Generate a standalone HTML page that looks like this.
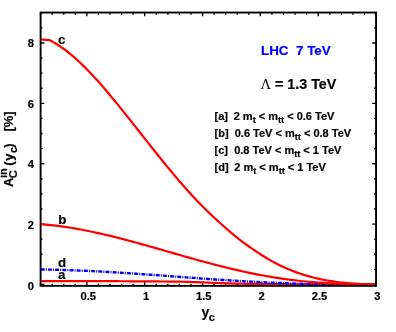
<!DOCTYPE html>
<html><head><meta charset="utf-8"><title>chart</title>
<style>
html,body{margin:0;padding:0;background:#fff;}
body{width:396px;height:332px;overflow:hidden;}
svg{display:block;}
text{font-family:"Liberation Sans",sans-serif;font-weight:bold;fill:#000;stroke:#000;stroke-width:0.2px;}
.tk{font-size:11.2px;}
.lg{font-size:11px;}
.cl{font-size:13.3px;}
</style></head><body>
<svg width="396" height="332" viewBox="0 0 396 332">
<rect x="0" y="0" width="396" height="332" fill="#fff"/>

<rect x="40.6" y="12.55" width="335.45" height="273.3" fill="none" stroke="#000" stroke-width="1.9"/>
<path d="M40.60,285.85V283.7 M40.60,12.55V14.8 M52.17,285.85V283.7 M52.17,12.55V14.8 M63.73,285.85V283.7 M63.73,12.55V14.8 M75.30,285.85V283.7 M75.30,12.55V14.8 M86.87,285.85V282.1 M86.87,12.55V16.3 M98.44,285.85V283.7 M98.44,12.55V14.8 M110.00,285.85V283.7 M110.00,12.55V14.8 M121.57,285.85V283.7 M121.57,12.55V14.8 M133.14,285.85V283.7 M133.14,12.55V14.8 M144.71,285.85V282.1 M144.71,12.55V16.3 M156.27,285.85V283.7 M156.27,12.55V14.8 M167.84,285.85V283.7 M167.84,12.55V14.8 M179.41,285.85V283.7 M179.41,12.55V14.8 M190.97,285.85V283.7 M190.97,12.55V14.8 M202.54,285.85V282.1 M202.54,12.55V16.3 M214.11,285.85V283.7 M214.11,12.55V14.8 M225.68,285.85V283.7 M225.68,12.55V14.8 M237.24,285.85V283.7 M237.24,12.55V14.8 M248.81,285.85V283.7 M248.81,12.55V14.8 M260.38,285.85V282.1 M260.38,12.55V16.3 M271.94,285.85V283.7 M271.94,12.55V14.8 M283.51,285.85V283.7 M283.51,12.55V14.8 M295.08,285.85V283.7 M295.08,12.55V14.8 M306.65,285.85V283.7 M306.65,12.55V14.8 M318.21,285.85V282.1 M318.21,12.55V16.3 M329.78,285.85V283.7 M329.78,12.55V14.8 M341.35,285.85V283.7 M341.35,12.55V14.8 M352.92,285.85V283.7 M352.92,12.55V14.8 M364.48,285.85V283.7 M364.48,12.55V14.8 M376.05,285.85V282.1 M376.05,12.55V16.3 M40.6,284.40H44.4 M376.05,284.40H372.2 M40.6,269.31H42.6 M376.05,269.31H374.1 M40.6,254.22H42.6 M376.05,254.22H374.1 M40.6,239.14H42.6 M376.05,239.14H374.1 M40.6,224.05H44.4 M376.05,224.05H372.2 M40.6,208.96H42.6 M376.05,208.96H374.1 M40.6,193.87H42.6 M376.05,193.87H374.1 M40.6,178.79H42.6 M376.05,178.79H374.1 M40.6,163.70H44.4 M376.05,163.70H372.2 M40.6,148.61H42.6 M376.05,148.61H374.1 M40.6,133.52H42.6 M376.05,133.52H374.1 M40.6,118.44H42.6 M376.05,118.44H374.1 M40.6,103.35H44.4 M376.05,103.35H372.2 M40.6,88.26H42.6 M376.05,88.26H374.1 M40.6,73.17H42.6 M376.05,73.17H374.1 M40.6,58.09H42.6 M376.05,58.09H374.1 M40.6,43.00H44.4 M376.05,43.00H372.2 M40.6,27.91H42.6 M376.05,27.91H374.1 M40.6,12.82H42.6 M376.05,12.82H374.1" stroke="#000" stroke-width="1.35" fill="none"/>
<clipPath id="cp"><rect x="40.8" y="0" width="340" height="285.0"/></clipPath>
<g fill="none" stroke-linejoin="round" stroke-linecap="butt" clip-path="url(#cp)">
<path d="M40.7,281.15 L43.2,281.15 L45.7,281.15 L48.2,281.15 L50.7,281.15 L53.2,281.15 L55.7,281.15 L58.2,281.15 L60.7,281.15 L63.2,281.15 L65.7,281.15 L68.2,281.15 L70.7,281.15 L73.2,281.15 L75.7,281.15 L78.2,281.15 L80.7,281.15 L83.2,281.15 L85.7,281.15 L88.2,281.15 L90.7,281.15 L93.2,281.15 L95.7,281.15 L98.2,281.16 L100.7,281.16 L103.2,281.17 L105.7,281.17 L108.2,281.18 L110.7,281.19 L113.2,281.20 L115.7,281.21 L118.2,281.22 L120.7,281.23 L123.2,281.24 L125.7,281.26 L128.2,281.27 L130.7,281.28 L133.2,281.30 L135.7,281.31 L138.2,281.33 L140.7,281.34 L143.2,281.36 L145.7,281.37 L148.2,281.39 L150.7,281.40 L153.2,281.42 L155.7,281.44 L158.2,281.46 L160.7,281.48 L163.2,281.50 L165.7,281.52 L168.2,281.55 L170.7,281.57 L173.2,281.60 L175.7,281.63 L178.2,281.67 L180.7,281.71 L183.2,281.75 L185.7,281.82 L188.2,281.89 L190.7,281.96 L193.2,282.04 L195.7,282.12 L198.2,282.21 L200.7,282.31 L203.2,282.41 L205.7,282.51 L208.2,282.62 L210.7,282.73 L213.2,282.83 L215.7,282.93 L218.2,283.02 L220.7,283.11 L223.2,283.20 L225.7,283.29 L228.2,283.38 L230.7,283.46 L233.2,283.54 L235.7,283.61 L238.2,283.67 L240.7,283.71 L243.2,283.75 L245.7,283.79 L248.2,283.82 L250.7,283.85 L253.2,283.88 L255.7,283.91 L258.2,283.93 L260.7,283.96 L263.2,283.98 L265.7,284.01 L268.2,284.03 L270.7,284.06 L273.2,284.09 L275.7,284.11 L278.2,284.14 L280.7,284.17 L283.2,284.19 L285.7,284.21 L288.2,284.23 L290.7,284.25 L293.2,284.27 L295.7,284.28 L298.2,284.29 L300.7,284.30 L303.2,284.31 L305.7,284.31 L308.2,284.32 L310.7,284.33 L313.2,284.33 L315.7,284.34 L318.2,284.34 L320.7,284.35 L323.2,284.35 L325.7,284.35 L328.2,284.35 L330.7,284.35 L333.2,284.35 L335.7,284.35 L338.2,284.35 L340.7,284.35 L343.2,284.35 L345.7,284.35 L348.2,284.35 L350.7,284.35 L353.2,284.35 L355.7,284.35 L358.2,284.35 L360.7,284.35 L363.2,284.35 L365.7,284.35 L368.2,284.35 L370.7,284.35 L373.2,284.35 L375.0,284.35" stroke="#ff0000" stroke-width="2.2"/>
<path d="M40.7,269.46 L43.2,269.50 L45.7,269.54 L48.2,269.58 L50.7,269.63 L53.2,269.69 L55.7,269.75 L58.2,269.81 L60.7,269.88 L63.2,269.95 L65.7,270.03 L68.2,270.12 L70.7,270.20 L73.2,270.29 L75.7,270.39 L78.2,270.49 L80.7,270.59 L83.2,270.70 L85.7,270.81 L88.2,270.93 L90.7,271.05 L93.2,271.17 L95.7,271.29 L98.2,271.42 L100.7,271.55 L103.2,271.69 L105.7,271.83 L108.2,271.97 L110.7,272.11 L113.2,272.26 L115.7,272.41 L118.2,272.56 L120.7,272.72 L123.2,272.87 L125.7,273.03 L128.2,273.20 L130.7,273.36 L133.2,273.53 L135.7,273.70 L138.2,273.87 L140.7,274.04 L143.2,274.21 L145.7,274.39 L148.2,274.56 L150.7,274.74 L153.2,274.92 L155.7,275.10 L158.2,275.29 L160.7,275.47 L163.2,275.65 L165.7,275.84 L168.2,276.02 L170.7,276.21 L173.2,276.40 L175.7,276.58 L178.2,276.77 L180.7,276.96 L183.2,277.14 L185.7,277.33 L188.2,277.51 L190.7,277.70 L193.2,277.88 L195.7,278.06 L198.2,278.25 L200.7,278.43 L203.2,278.61 L205.7,278.79 L208.2,278.96 L210.7,279.14 L213.2,279.31 L215.7,279.48 L218.2,279.65 L220.7,279.82 L223.2,279.98 L225.7,280.14 L228.2,280.30 L230.7,280.46 L233.2,280.62 L235.7,280.77 L238.2,280.92 L240.7,281.07 L243.2,281.21 L245.7,281.35 L248.2,281.49 L250.7,281.63 L253.2,281.77 L255.7,281.90 L258.2,282.03 L260.7,282.15 L263.2,282.28 L265.7,282.40 L268.2,282.51 L270.7,282.63 L273.2,282.74 L275.7,282.85 L278.2,282.95 L280.7,283.06 L283.2,283.16 L285.7,283.25 L288.2,283.34 L290.7,283.43 L293.2,283.52 L295.7,283.60 L298.2,283.68 L300.7,283.76 L303.2,283.83 L305.7,283.90 L308.2,283.97 L310.7,284.03 L313.2,284.09 L315.7,284.14 L318.2,284.19 L320.7,284.24 L323.2,284.28 L325.7,284.32 L328.2,284.35 L330.7,284.35 L333.2,284.35 L335.7,284.35 L338.2,284.35 L340.7,284.35 L343.2,284.35 L345.7,284.35 L348.2,284.35 L350.7,284.35 L353.2,284.35 L355.7,284.35 L358.2,284.35 L360.7,284.35 L363.2,284.35 L365.7,284.35 L368.2,284.35 L370.7,284.35 L373.2,284.31 L375.0,284.28" stroke="#0000ff" stroke-width="2.4" stroke-dasharray="4.0 1.1 1.0 1.1"/>
<path d="M40.7,224.18 L43.2,224.37 L45.7,224.59 L48.2,224.82 L50.7,225.08 L53.2,225.35 L55.7,225.64 L58.2,225.96 L60.7,226.29 L63.2,226.63 L65.7,227.00 L68.2,227.38 L70.7,227.78 L73.2,228.19 L75.7,228.62 L78.2,229.06 L80.7,229.52 L83.2,229.99 L85.7,230.48 L88.2,230.98 L90.7,231.50 L93.2,232.02 L95.7,232.56 L98.2,233.11 L100.7,233.68 L103.2,234.25 L105.7,234.83 L108.2,235.43 L110.7,236.03 L113.2,236.64 L115.7,237.27 L118.2,237.90 L120.7,238.54 L123.2,239.18 L125.7,239.84 L128.2,240.50 L130.7,241.17 L133.2,241.84 L135.7,242.52 L138.2,243.21 L140.7,243.90 L143.2,244.59 L145.7,245.29 L148.2,245.99 L150.7,246.70 L153.2,247.41 L155.7,248.12 L158.2,248.83 L160.7,249.55 L163.2,250.26 L165.7,250.98 L168.2,251.70 L170.7,252.41 L173.2,253.13 L175.7,253.85 L178.2,254.56 L180.7,255.27 L183.2,255.99 L185.7,256.69 L188.2,257.40 L190.7,258.10 L193.2,258.80 L195.7,259.50 L198.2,260.19 L200.7,260.87 L203.2,261.55 L205.7,262.23 L208.2,262.90 L210.7,263.56 L213.2,264.21 L215.7,264.86 L218.2,265.50 L220.7,266.14 L223.2,266.76 L225.7,267.38 L228.2,267.99 L230.7,268.60 L233.2,269.19 L235.7,269.77 L238.2,270.35 L240.7,270.91 L243.2,271.47 L245.7,272.01 L248.2,272.55 L250.7,273.08 L253.2,273.59 L255.7,274.09 L258.2,274.58 L260.7,275.07 L263.2,275.53 L265.7,275.99 L268.2,276.43 L270.7,276.87 L273.2,277.28 L275.7,277.69 L278.2,278.08 L280.7,278.46 L283.2,278.83 L285.7,279.18 L288.2,279.51 L290.7,279.83 L293.2,280.14 L295.7,280.44 L298.2,280.72 L300.7,280.99 L303.2,281.24 L305.7,281.48 L308.2,281.72 L310.7,281.93 L313.2,282.14 L315.7,282.34 L318.2,282.52 L320.7,282.70 L323.2,282.86 L325.7,283.01 L328.2,283.15 L330.7,283.29 L333.2,283.41 L335.7,283.52 L338.2,283.63 L340.7,283.72 L343.2,283.81 L345.7,283.89 L348.2,283.96 L350.7,284.02 L353.2,284.08 L355.7,284.13 L358.2,284.17 L360.7,284.20 L363.2,284.23 L365.7,284.25 L368.2,284.27 L370.7,284.28 L373.2,284.29 L375.0,284.29" stroke="#ff0000" stroke-width="2.2"/>
<path d="M40.7,39.30 L49.2,40.04 L51.2,41.04 L53.2,42.12 L55.2,43.27 L57.2,44.48 L59.2,45.76 L61.2,47.10 L63.2,48.51 L65.2,49.98 L67.2,51.50 L69.2,53.09 L71.2,54.73 L73.2,56.42 L75.2,58.17 L77.2,59.97 L79.2,61.81 L81.2,63.70 L83.2,65.64 L85.2,67.62 L87.2,69.65 L89.2,71.71 L91.2,73.82 L93.2,75.96 L95.2,78.13 L97.2,80.34 L99.2,82.58 L101.2,84.85 L103.2,87.15 L105.2,89.48 L107.2,91.83 L109.2,94.20 L111.2,96.60 L113.2,99.01 L115.2,101.45 L117.2,103.90 L119.2,106.36 L121.2,108.84 L123.2,111.33 L125.2,113.83 L127.2,116.34 L129.2,118.86 L131.2,121.38 L133.2,123.91 L135.2,126.44 L137.2,128.98 L139.2,131.51 L141.2,134.05 L143.2,136.59 L145.2,139.13 L147.2,141.66 L149.2,144.19 L151.2,146.72 L153.2,149.24 L155.2,151.75 L157.2,154.26 L159.2,156.76 L161.2,159.24 L163.2,161.72 L165.2,164.18 L167.2,166.62 L169.2,169.06 L171.2,171.47 L173.2,173.87 L175.2,176.26 L177.2,178.62 L179.2,180.96 L181.2,183.28 L183.2,185.58 L185.2,187.85 L187.2,190.10 L189.2,192.32 L191.2,194.52 L193.2,196.68 L195.2,198.82 L197.2,200.93 L199.2,203.00 L201.2,205.04 L203.2,207.05 L205.2,209.03 L207.2,210.98 L209.2,212.90 L211.2,214.80 L213.2,216.68 L215.2,218.53 L217.2,220.37 L219.2,222.19 L221.2,223.99 L223.2,225.78 L225.2,227.56 L227.2,229.31 L229.2,231.04 L231.2,232.74 L233.2,234.42 L235.2,236.08 L237.2,237.70 L239.2,239.28 L241.2,240.83 L243.2,242.35 L245.2,243.82 L247.2,245.26 L249.2,246.67 L251.2,248.06 L253.2,249.42 L255.2,250.77 L257.2,252.10 L259.2,253.43 L261.2,254.74 L263.2,256.03 L265.2,257.27 L267.2,258.48 L269.2,259.66 L271.2,260.79 L273.2,261.90 L275.2,262.96 L277.2,264.00 L279.2,265.00 L281.2,265.96 L283.2,266.90 L285.2,267.80 L287.2,268.68 L289.2,269.52 L291.2,270.33 L293.2,271.12 L295.2,271.87 L297.2,272.60 L299.2,273.30 L301.2,273.97 L303.2,274.61 L305.2,275.23 L307.2,275.83 L309.2,276.39 L311.2,276.94 L313.2,277.46 L315.2,277.95 L317.2,278.43 L319.2,278.88 L321.2,279.30 L323.2,279.71 L325.2,280.10 L327.2,280.46 L329.2,280.81 L331.2,281.13 L333.2,281.44 L335.2,281.73 L337.2,282.00 L339.2,282.25 L341.2,282.48 L343.2,282.70 L345.2,282.91 L347.2,283.10 L349.2,283.27 L351.2,283.43 L353.2,283.57 L355.2,283.70 L357.2,283.82 L359.2,283.93 L361.2,284.02 L363.2,284.11 L365.2,284.18 L367.2,284.24 L369.2,284.29 L371.2,284.34 L373.2,284.35 L375.0,284.35" stroke="#ff0000" stroke-width="2.2"/>
</g>
<filter id="idf" x="0" y="0" width="396" height="332" filterUnits="userSpaceOnUse"><feOffset dx="0" dy="0"/></filter><g filter="url(#idf)">
<text class="tk" x="88.2" y="300.4" text-anchor="middle">0.5</text>
<text class="tk" x="146.0" y="300.4" text-anchor="middle">1</text>
<text class="tk" x="203.8" y="300.4" text-anchor="middle">1.5</text>
<text class="tk" x="261.7" y="300.4" text-anchor="middle">2</text>
<text class="tk" x="319.5" y="300.4" text-anchor="middle">2.5</text>
<text class="tk" x="377.4" y="300.4" text-anchor="middle">3</text>
<text class="tk" x="34.0" y="289.8" text-anchor="end">0</text>
<text class="tk" x="34.0" y="229.1" text-anchor="end">2</text>
<text class="tk" x="34.0" y="168.4" text-anchor="end">4</text>
<text class="tk" x="34.0" y="107.7" text-anchor="end">6</text>
<text class="tk" x="34.0" y="47.0" text-anchor="end">8</text>
<text class="cl" x="57.9" y="43.5">c</text>
<text class="cl" x="58.2" y="224">b</text>
<text class="cl" x="58.1" y="266.5">d</text>
<text class="cl" x="58.0" y="278.7">a</text>
<text x="261" y="54.5" font-size="13.4" style="fill:#0000ff;stroke:#0000ff" xml:space="preserve">LHC  7 TeV</text>
<text x="260.5" y="88.5" font-size="14.3" xml:space="preserve"><tspan font-size="14.5" style="font-family:'Liberation Serif',serif;font-weight:normal;stroke:none">Λ</tspan> = 1.3 TeV</text>
<text class="lg" x="214.6" y="119.6" xml:space="preserve">[a]<tspan dx="-0.5">  </tspan>2 m<tspan dy="3.3" font-size="9.2">t</tspan><tspan dy="-3.3" font-size="9.2">&#8203;</tspan> &lt; m<tspan dy="3.3" font-size="9.2">tt</tspan><tspan dy="-3.3" font-size="9.2">&#8203;</tspan> &lt; 0.6 TeV</text>
<text class="lg" x="214.6" y="136.6" xml:space="preserve">[b]  0.6 TeV &lt; m<tspan dy="3.3" font-size="9.2">tt</tspan><tspan dy="-3.3" font-size="9.2">&#8203;</tspan> &lt; 0.8 TeV</text>
<text class="lg" x="214.6" y="153.6" xml:space="preserve">[c]  0.8 TeV &lt; m<tspan dy="3.3" font-size="9.2">tt</tspan><tspan dy="-3.3" font-size="9.2">&#8203;</tspan> &lt; 1 TeV</text>
<text class="lg" x="214.6" y="170.6" xml:space="preserve">[d]<tspan dx="-0.5">  </tspan>2 m<tspan dy="3.3" font-size="9.2">t</tspan><tspan dy="-3.3" font-size="9.2">&#8203;</tspan> &lt; m<tspan dy="3.3" font-size="9.2">tt</tspan><tspan dy="-3.3" font-size="9.2">&#8203;</tspan> &lt; 1 TeV</text>
<text x="201.5" y="316.8" font-size="14">y</text><text x="208.7" y="321.0" font-size="11">c</text>
<g transform="translate(13.4,187) rotate(-90)"><text x="0" y="0" font-size="13">A</text><text x="8.7" y="3.6" font-size="11">C</text><text x="9.0" y="-6.6" font-size="11">in</text><text x="21.3" y="0" font-size="13">(</text><text x="26.3" y="0" font-size="13">y</text><text x="34.0" y="3.8" font-size="11">c</text><text x="39.3" y="0" font-size="13">)</text><text x="55.4" y="0" font-size="13">[%]</text></g>
</g>
</svg></body></html>
